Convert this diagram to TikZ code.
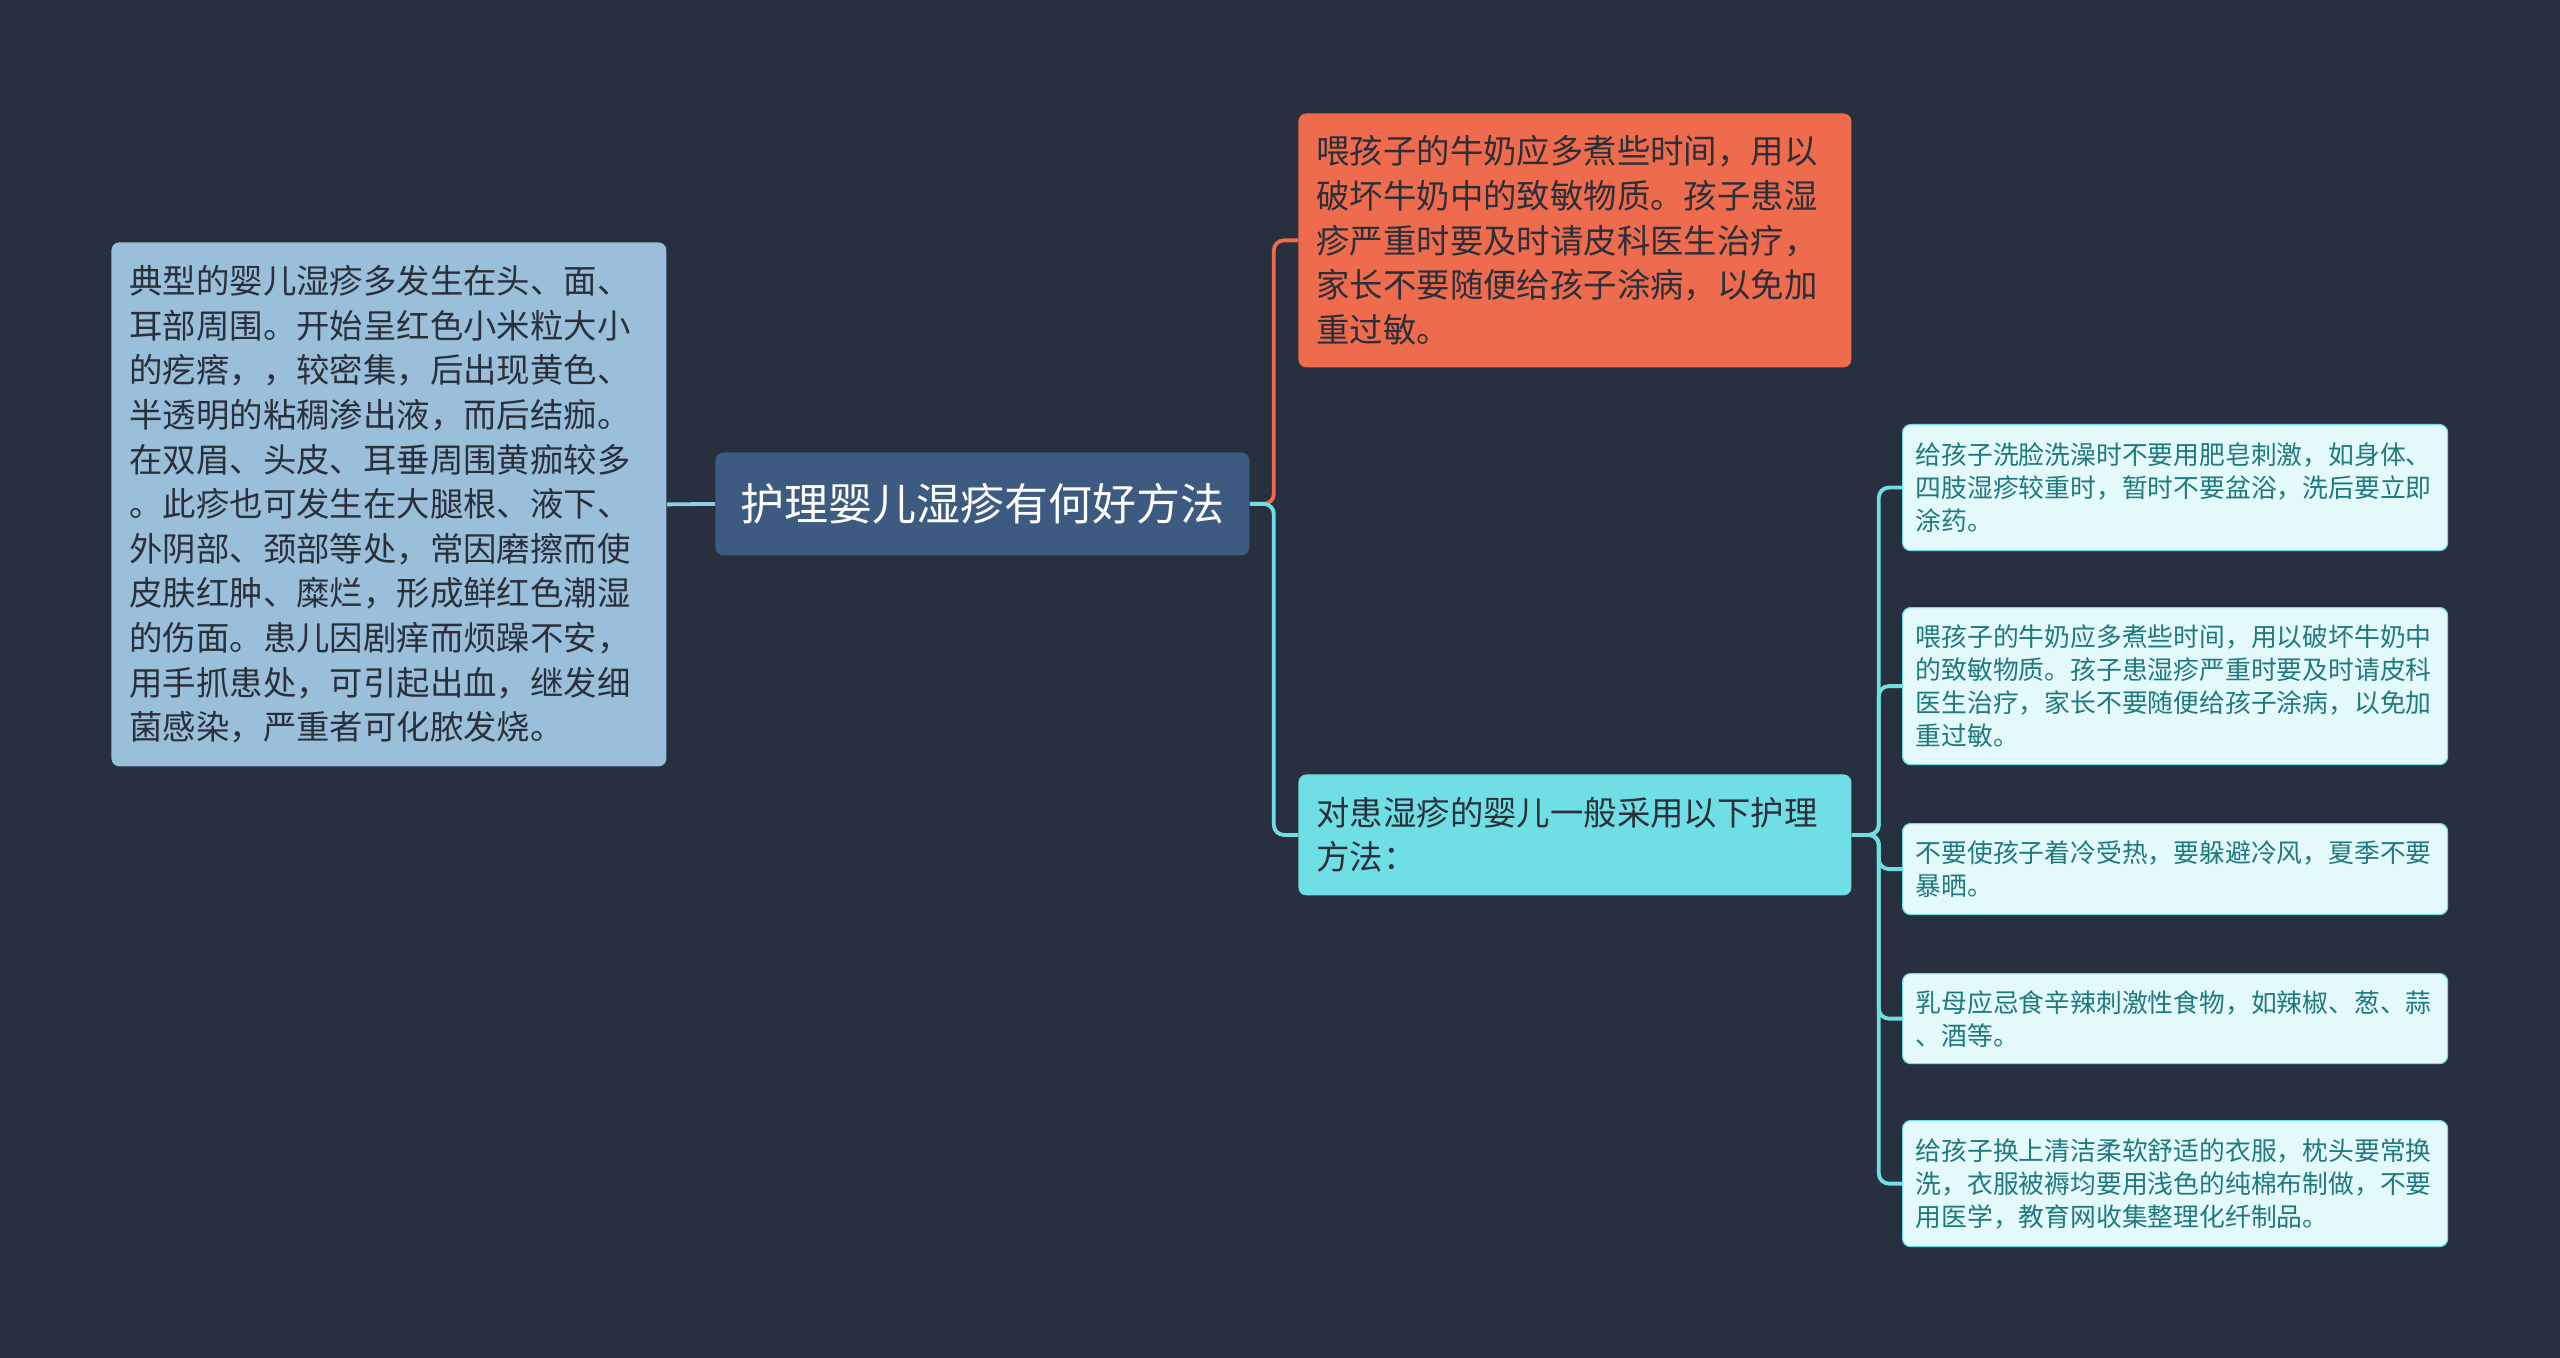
\documentclass[tikz,border=0pt]{standalone}
\usepackage{fontspec}
\setmainfont{Noto Sans CJK SC}
\definecolor{bgc}{HTML}{282F3E}
\definecolor{leftfill}{HTML}{99BFDB}
\definecolor{leftline}{HTML}{8ECFE2}
\definecolor{rootfill}{HTML}{3D5A80}
\definecolor{orangefill}{HTML}{EE6B4D}
\definecolor{cyanfill}{HTML}{70DFE5}
\definecolor{leaffill}{HTML}{E4F9FA}
\definecolor{leaftext}{HTML}{1F7A80}
\definecolor{darktext}{HTML}{2A2F3A}
\tikzset{
  boxbase/.style={rounded corners=4pt, anchor=north west, inner ysep=0pt, align=left},
  bigtext/.style={font=\fontsize{16.7pt}{22.3pt}\selectfont},
  leftbox/.style={boxbase, bigtext, fill=leftfill, text=darktext, inner xsep=9pt, text width=259.5pt, minimum width=277.5pt},
  rootbox/.style={rounded corners=4pt, anchor=north west, fill=rootfill, text=white, font=\fontsize{22pt}{26pt}\selectfont, minimum width=267pt, minimum height=51.5pt, inner sep=0pt},
  orangebox/.style={boxbase, bigtext, fill=orangefill, text=darktext, inner xsep=9pt, text width=258.5pt, minimum width=276.5pt},
  cyanbox/.style={boxbase, bigtext, fill=cyanfill, text=darktext, inner xsep=9pt, text width=258.5pt, minimum width=276.5pt},
  leafbox/.style={boxbase, font=\fontsize{12.9pt}{16.5pt}\selectfont, fill=leaffill, draw=cyanfill, line width=0.6pt, text=leaftext, inner xsep=6.5pt, text width=259.5pt, minimum width=272.5pt},
  conn/.style={line width=1.9pt, rounded corners=5pt},
}
\begin{document}
\begin{tikzpicture}[x=0.5pt,y=-0.5pt]
\fill[bgc] (0,0) rectangle (2560,1358);
\useasboundingbox (0,0) rectangle (2560,1358);

\node[leftbox, minimum height=262pt] (left) at (111,242) {典型的婴儿湿疹多发生在头、面、\\耳部周围。开始呈红色小米粒大小\\的疙瘩，，较密集，后出现黄色、\\半透明的粘稠渗出液，而后结痂。\\在双眉、头皮、耳垂周围黄痂较多\\。此疹也可发生在大腿根、液下、\\外阴部、颈部等处，常因磨擦而使\\皮肤红肿、糜烂，形成鲜红色潮湿\\的伤面。患儿因剧痒而烦躁不安，\\用手抓患处，可引起出血，继发细\\菌感染，严重者可化脓发烧。};

\node[rootbox] (root) at (715,452) {护理婴儿湿疹有何好方法};

\node[orangebox, minimum height=127pt] (orange) at (1298,113) {喂孩子的牛奶应多煮些时间，用以\\破坏牛奶中的致敏物质。孩子患湿\\疹严重时要及时请皮科医生治疗，\\家长不要随便给孩子涂病，以免加\\重过敏。};

\node[cyanbox, minimum height=60.5pt] (cyan) at (1298,774) {对患湿疹的婴儿一般采用以下护理\\方法：};

\node[leafbox, minimum height=63pt] (leafa) at (1902,424) {给孩子洗脸洗澡时不要用肥皂刺激，如身体、\\四肢湿疹较重时，暂时不要盆浴，洗后要立即\\涂药。};
\node[leafbox, minimum height=78.5pt] (leafb) at (1902,607) {喂孩子的牛奶应多煮些时间，用以破坏牛奶中\\的致敏物质。孩子患湿疹严重时要及时请皮科\\医生治疗，家长不要随便给孩子涂病，以免加\\重过敏。};
\node[leafbox, minimum height=45.5pt] (leafc) at (1902,823) {不要使孩子着冷受热，要躲避冷风，夏季不要\\暴晒。};
\node[leafbox, minimum height=45pt] (leafd) at (1902,973) {乳母应忌食辛辣刺激性食物，如辣椒、葱、蒜\\、酒等。};
\node[leafbox, minimum height=63pt] (leafe) at (1902,1120) {给孩子换上清洁柔软舒适的衣服，枕头要常换\\洗，衣服被褥均要用浅色的纯棉布制做，不要\\用医学，教育网收集整理化纤制品。};

\draw[conn, leftline] (root.west) -- (left.east);
\draw[conn, orangefill] (root.east) -- ++(12pt,0) |- (orange.west);
\draw[conn, cyanfill] (root.east) -- ++(12pt,0) |- (cyan.west);
\foreach \n in {leafa,leafb,leafc,leafd,leafe}{
  \draw[conn, cyanfill] (cyan.east) -- ++(13.5pt,0) |- (\n.west);
}
\end{tikzpicture}
\end{document}
